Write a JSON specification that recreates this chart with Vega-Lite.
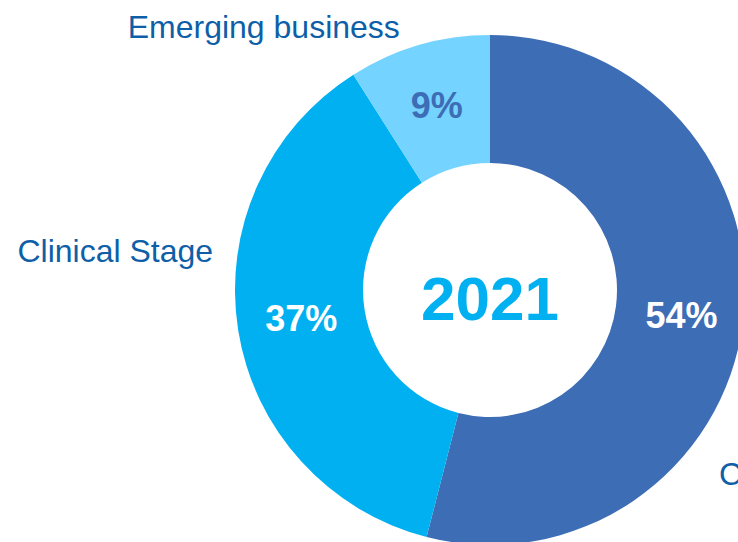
{
  "$schema": "https://vega.github.io/schema/vega-lite/v6.json",
  "width": 510,
  "height": 510,
  "autosize": {"type": "none"},
  "padding": {"left": 235, "top": 35, "right": 0, "bottom": 0},
  "background": "white",
  "config": {"view": {"stroke": null}, "font": "Liberation Sans"},
  "data": {
    "values": [
      {"segment": "Commercial Stage", "share": 54, "label": "54%", "rank": 1},
      {"segment": "Clinical Stage", "share": 37, "label": "37%", "rank": 2},
      {"segment": "Emerging business", "share": 9, "label": "9%", "rank": 3}
    ]
  },
  "layer": [
    {
      "mark": {"type": "arc", "radius": 255, "innerRadius": 127},
      "encoding": {
        "theta": {"field": "share", "type": "quantitative", "stack": true},
        "order": {"field": "rank", "type": "quantitative"},
        "color": {
          "field": "segment",
          "type": "nominal",
          "scale": {
            "domain": ["Commercial Stage", "Clinical Stage", "Emerging business"],
            "range": ["#3D6DB5", "#00B0F0", "#75D3FF"]
          },
          "legend": null
        }
      }
    },
    {
      "mark": {"type": "text", "radius": 191, "fontSize": 36, "fontWeight": "bold", "baseline": "middle", "align": "center"},
      "encoding": {
        "theta": {"field": "share", "type": "quantitative", "stack": true},
        "order": {"field": "rank", "type": "quantitative"},
        "text": {"condition": {"test": "datum.segment !== 'Commercial Stage'", "field": "label"}, "value": ""},
        "color": {"condition": {"test": "datum.segment === 'Emerging business'", "value": "#3D6DB5"}, "value": "white"}
      }
    },
    {
      "mark": {"type": "text", "radius": 191, "fontSize": 36, "fontWeight": "bold", "baseline": "middle", "align": "center", "dx": 2, "dy": 3, "color": "white"},
      "encoding": {
        "theta": {"field": "share", "type": "quantitative", "stack": true},
        "order": {"field": "rank", "type": "quantitative"},
        "text": {"condition": {"test": "datum.segment === 'Commercial Stage'", "field": "label"}, "value": ""}
      }
    },
    {
      "mark": {"type": "text", "radius": 255, "fontSize": 32, "align": "right", "baseline": "alphabetic", "dx": -19, "dy": -7, "color": "#0E5FA8"},
      "encoding": {
        "theta": {"field": "share", "type": "quantitative", "stack": true},
        "order": {"field": "rank", "type": "quantitative"},
        "text": {"condition": {"test": "datum.segment === 'Emerging business'", "field": "segment"}, "value": ""}
      }
    },
    {
      "mark": {"type": "text", "radius": 255, "fontSize": 32, "align": "right", "baseline": "alphabetic", "dx": -25, "dy": -68, "color": "#0E5FA8"},
      "encoding": {
        "theta": {"field": "share", "type": "quantitative", "stack": true},
        "order": {"field": "rank", "type": "quantitative"},
        "text": {"condition": {"test": "datum.segment === 'Clinical Stage'", "field": "segment"}, "value": ""}
      }
    },
    {
      "mark": {"type": "text", "radius": 255, "fontSize": 32, "align": "left", "baseline": "alphabetic", "dx": -24, "dy": 163, "color": "#0E5FA8"},
      "encoding": {
        "theta": {"field": "share", "type": "quantitative", "stack": true},
        "order": {"field": "rank", "type": "quantitative"},
        "text": {"condition": {"test": "datum.segment === 'Commercial Stage'", "field": "segment"}, "value": ""}
      }
    },
    {
      "data": {"values": [{"year": "2021"}]},
      "mark": {"type": "text", "fontSize": 62, "fontWeight": "bold", "align": "center", "baseline": "alphabetic", "dy": 30, "color": "#00B0F0"},
      "encoding": {
        "text": {"field": "year"}
      }
    }
  ]
}
